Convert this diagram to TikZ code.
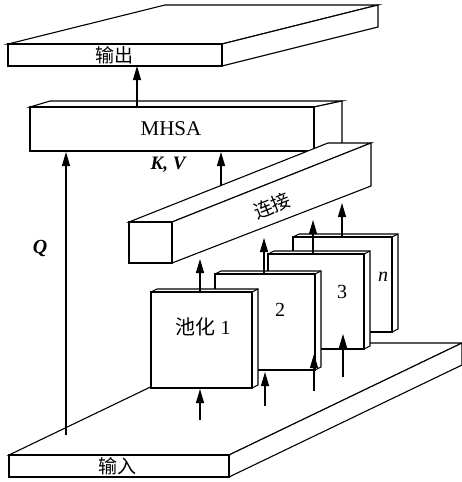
\documentclass[tikz,border=0pt]{standalone}
\usepackage{fontspec}
\setmainfont{Liberation Serif}
\newfontfamily\cjk{Noto Sans CJK SC}
\usetikzlibrary{arrows.meta}
\newcommand\poolbox[5]{%
  \draw[face] (#1,#2) -- (#1+6,#2-3) -- (#3+6,#2-3) -- (#3+6,#4-3) -- (#3,#4) -- (#1,#4) -- cycle;
  \draw (#1,#2) rectangle (#3,#4);
  \draw (#3,#2) -- (#3+6,#2-3);
  \coordinate (#5) at (#1,#2);}
\begin{document}
\begin{tikzpicture}[x=1pt,y=-1pt, line width=1.1pt, line join=miter,
  face/.style={draw=black, fill=white},
  arr/.style={-{Triangle[length=14pt,width=8pt]}},
  lbl/.style={font=\fontsize{20}{24}\selectfont, inner sep=0pt},
  clbl/.style={font=\cjk\fontsize{19}{22}\selectfont, inner sep=0pt}]
\useasboundingbox (0,0) rectangle (462,482);
% input slab
\draw[face] (9,455) -- (229,455) -- (462,343) -- (242,343) -- cycle;
\draw[face] (229,455) -- (462,343) -- (462,365) -- (229,477) -- cycle;
\draw[face] (9,455) rectangle (229,477);
\node[clbl] (in) at (117,466) {输入};
% Q arrow
\coordinate (q0) at (66,435);
\coordinate (q1) at (66,152);
\draw[arr] (q0) -- (q1);
\node[lbl, font=\fontsize{20}{24}\selectfont\bfseries\itshape] (q) at (40,248) {Q};
% pools
\poolbox{293}{237}{392}{332}{pn}
\poolbox{268}{254}{364}{349}{p3}
\poolbox{215}{274}{315}{370}{p2}
\poolbox{151}{292}{252}{388}{p1}
\node[lbl] (t1) at (203,327) {{\cjk 池化} 1};
\node[lbl] (t2) at (280,310) {2};
\node[lbl] (t3) at (342,292) {3};
\node[lbl, font=\fontsize{20}{24}\selectfont\itshape] (tn) at (383,277) {n};
% MHSA box
\draw[face] (30,107) -- (50,101) -- (342,101) -- (314,107) -- cycle;
\draw[face] (314,107) -- (342,101) -- (342,145) -- (314,151) -- cycle;
\draw[face] (30,107) rectangle (314,151);
\node[lbl, font=\fontsize{21}{24}\selectfont] (mhsa) at (171,129) {MHSA};
% concat bar
\draw[face] (129,222) -- (328,143) -- (371,143) -- (172,222) -- cycle;
\draw[face] (172,222) -- (371,143) -- (371,186) -- (172,263) -- cycle;
\draw[face] (129,222) rectangle (172,263);
\node[clbl, rotate=21.7] (cat) at (272,206) {连接};
% output slab
\draw[face] (8,44) -- (165,5) -- (378,5) -- (222,44) -- cycle;
\draw[face] (222,44) -- (378,5) -- (378,27) -- (222,66) -- cycle;
\draw[face] (8,44) rectangle (222,66);
\node[clbl] (out) at (114,55) {输出};
% arrows
\coordinate (o0) at (137,107); \coordinate (o1) at (137,66);
\draw[arr] (o0) -- (o1);
\coordinate (kv0) at (221,185); \coordinate (kv1) at (221,152);
\draw[arr] (kv0) -- (kv1);
\node[lbl, font=\fontsize{19}{24}\selectfont\bfseries\itshape] (kv) at (168,165) {K, V};
% pools up to concat
\coordinate (u1a) at (200,292); \coordinate (u1b) at (200,259);
\coordinate (u2a) at (264,274); \coordinate (u2b) at (264,238);
\coordinate (u3a) at (313,254); \coordinate (u3b) at (313,220);
\coordinate (una) at (342,237); \coordinate (unb) at (342,203);
\draw[arr] (u1a) -- (u1b);
\draw[arr] (u2a) -- (u2b);
\draw[arr] (u3a) -- (u3b);
\draw[arr] (una) -- (unb);
% input to pools
\coordinate (d1a) at (200,420); \coordinate (d1b) at (200,389);
\coordinate (d2a) at (265,406); \coordinate (d2b) at (265,372);
\coordinate (d3a) at (314,391); \coordinate (d3b) at (314,354);
\coordinate (dna) at (343,377); \coordinate (dnb) at (343,334);
\draw[arr] (d1a) -- (d1b);
\draw[arr] (d2a) -- (d2b);
\draw[arr] (d3a) -- (d3b);
\draw[arr] (dna) -- (dnb);
\end{tikzpicture}
\end{document}
